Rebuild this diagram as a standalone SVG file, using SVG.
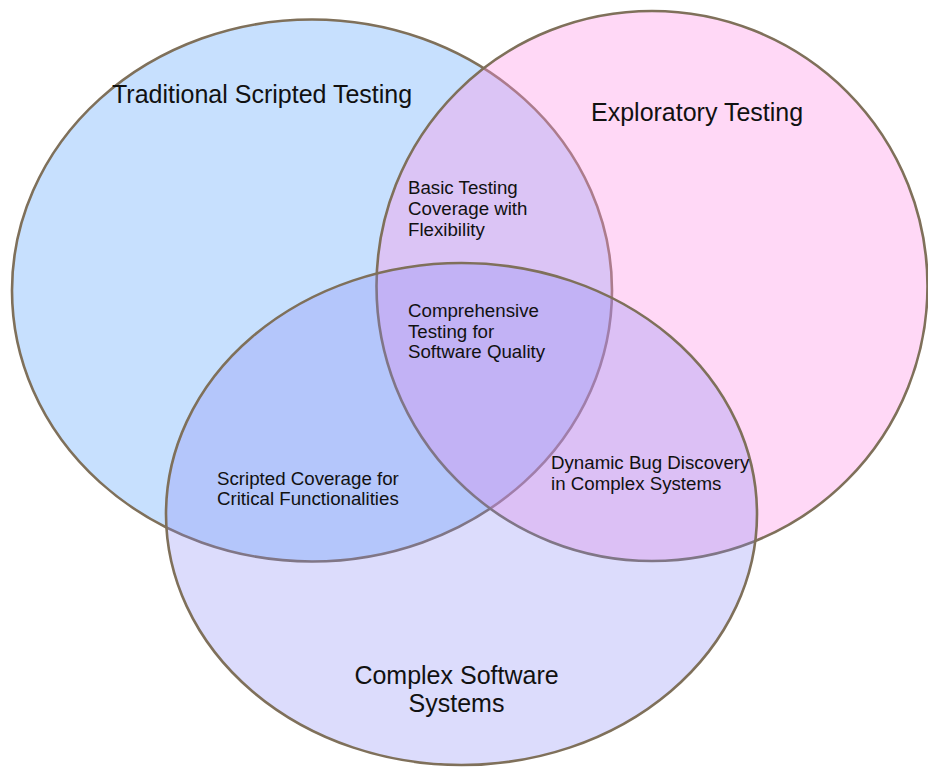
<svg xmlns="http://www.w3.org/2000/svg" width="928" height="767" viewBox="0 0 928 767">
<style>
.set{stroke:#7f705a;stroke-width:2.6}
.big{font-family:"Liberation Sans",Arial,sans-serif;font-size:25px;fill:#111}
.small{font-family:"Liberation Sans",Arial,sans-serif;font-size:18.7px;fill:#111}
</style>
<rect width="928" height="767" fill="#ffffff"/>
<g id="traditional">
<ellipse class="set" cx="312" cy="290.5" rx="300" ry="271" fill="#c7e0fe"/>
</g>
<g id="exploratory">
<ellipse class="set" cx="652" cy="286" rx="275.5" ry="275" fill="rgb(255,145,230)" fill-opacity="0.355"/>
</g>
<g id="complex">
<ellipse class="set" cx="461.5" cy="514" rx="295.5" ry="251" fill="rgb(133,133,245)" fill-opacity="0.286"/>
</g>
<g id="labels">
<text class="big" x="112" y="103">Traditional Scripted Testing</text>
<text class="big" x="591" y="121">Exploratory Testing</text>
<text class="big" text-anchor="middle" x="456.5" y="684">Complex Software</text>
<text class="big" text-anchor="middle" x="456.5" y="712">Systems</text>
</g>
<g id="basic">
<text class="small" x="408" y="194">Basic Testing</text>
<text class="small" x="408" y="215">Coverage with</text>
<text class="small" x="408" y="236">Flexibility</text>
</g>
<g id="comprehensive">
<text class="small" x="408" y="317">Comprehensive</text>
<text class="small" x="408" y="338">Testing for</text>
<text class="small" x="408" y="358">Software Quality</text>
</g>
<g id="scripted">
<text class="small" x="217" y="485">Scripted Coverage for</text>
<text class="small" x="217" y="505">Critical Functionalities</text>
</g>
<g id="dynamic">
<text class="small" x="551" y="469">Dynamic Bug Discovery</text>
<text class="small" x="551" y="490">in Complex Systems</text>
</g>
<g id="connectors"></g>
</svg>
